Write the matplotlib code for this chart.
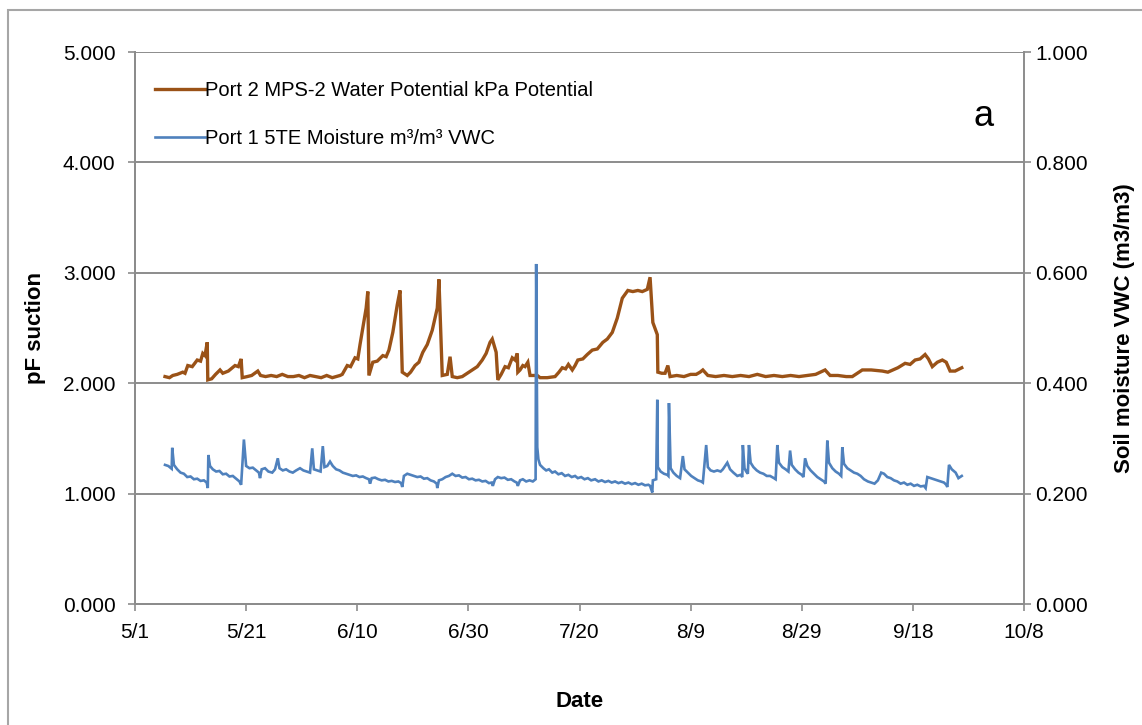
import matplotlib
matplotlib.use("Agg")
import matplotlib.pyplot as plt
from matplotlib.patches import Rectangle

plt.rcParams['font.family'] = ['Liberation Sans', 'DejaVu Sans']

# Days counted from 5/1
tick_days = [0, 20, 40, 60, 80, 100, 120, 140, 160]
tick_labels = ['5/1', '5/21', '6/10', '6/30', '7/20', '8/9', '8/29', '9/18', '10/8']

# Port 2 MPS-2 water potential, as pF suction: (day, pF)
pf_points = [
    (5.4, 2.06), (6.2, 2.05), (6.8, 2.07), (7.6, 2.08), (8.6, 2.10), (9.0, 2.09),
    (9.5, 2.16), (10.3, 2.15), (11.2, 2.21), (11.8, 2.20), (12.2, 2.27), (12.6, 2.25),
    (13.0, 2.37), (13.1, 2.03), (13.8, 2.04), (14.5, 2.08), (15.3, 2.12), (15.8, 2.09),
    (16.8, 2.11), (18.0, 2.16), (18.6, 2.15), (19.1, 2.22), (19.3, 2.05), (20.2, 2.06),
    (21.0, 2.07), (22.1, 2.11), (22.6, 2.07), (23.5, 2.06), (24.5, 2.07), (25.5, 2.06),
    (26.5, 2.08), (27.5, 2.06), (28.5, 2.06), (29.5, 2.07), (30.5, 2.05), (31.5, 2.07),
    (32.5, 2.06), (33.5, 2.05), (34.5, 2.07), (35.5, 2.05), (36.9, 2.07), (37.3, 2.08),
    (38.2, 2.16), (38.8, 2.15), (39.6, 2.23), (40.1, 2.22), (40.5, 2.35), (41.0, 2.50),
    (41.6, 2.68), (41.9, 2.83), (42.1, 2.07), (42.8, 2.19), (43.6, 2.20), (44.6, 2.25),
    (45.2, 2.24), (45.7, 2.30), (46.4, 2.46), (47.2, 2.71), (47.7, 2.84), (48.1, 2.10),
    (49.0, 2.07), (49.6, 2.10), (50.4, 2.16), (51.1, 2.19), (51.8, 2.28), (52.6, 2.35),
    (53.5, 2.48), (54.4, 2.68), (54.7, 2.94), (55.3, 2.07), (56.2, 2.08), (56.7, 2.24),
    (57.1, 2.06), (58.0, 2.05), (58.9, 2.06), (59.8, 2.09), (60.7, 2.12), (61.6, 2.15),
    (62.5, 2.21), (63.2, 2.27), (63.9, 2.37), (64.3, 2.40), (64.6, 2.35), (65.0, 2.28),
    (65.3, 2.03), (65.9, 2.08), (66.6, 2.15), (67.2, 2.14), (67.9, 2.23), (68.4, 2.21),
    (68.8, 2.27), (68.9, 2.10), (69.3, 2.12), (69.8, 2.16), (70.2, 2.15), (70.7, 2.19),
    (71.1, 2.07), (72.4, 2.07), (72.9, 2.05), (74.2, 2.05), (75.6, 2.06), (76.3, 2.10),
    (76.9, 2.14), (77.5, 2.13), (78.0, 2.17), (78.7, 2.12), (79.2, 2.16), (79.7, 2.21),
    (80.6, 2.22), (81.4, 2.26), (82.3, 2.30), (83.2, 2.31), (84.2, 2.37), (85.0, 2.40),
    (85.9, 2.46), (86.8, 2.59), (87.7, 2.77), (88.7, 2.84), (89.6, 2.83), (90.5, 2.84),
    (91.3, 2.83), (92.2, 2.85), (92.7, 2.96), (93.2, 2.55), (94.0, 2.44), (94.1, 2.10),
    (94.8, 2.09), (95.4, 2.09), (95.9, 2.16), (96.3, 2.06), (97.5, 2.07), (98.8, 2.06),
    (100.0, 2.08), (101.0, 2.08), (101.7, 2.10), (102.2, 2.12), (103.1, 2.07),
    (104.5, 2.06), (106.0, 2.07), (107.5, 2.06), (109.0, 2.07), (110.5, 2.06),
    (112.0, 2.08), (113.5, 2.06), (115.0, 2.07), (116.5, 2.06), (118.0, 2.07),
    (119.5, 2.06), (121.0, 2.07), (122.5, 2.08), (124.2, 2.12), (125.1, 2.07),
    (126.5, 2.07), (128.0, 2.06), (129.1, 2.06), (130.0, 2.09), (130.9, 2.12),
    (132.5, 2.12), (134.5, 2.11), (135.5, 2.10), (136.4, 2.12), (137.3, 2.14),
    (138.6, 2.18), (139.5, 2.17), (140.4, 2.21), (141.3, 2.22), (142.2, 2.26),
    (142.8, 2.22), (143.5, 2.15), (144.4, 2.19), (145.3, 2.21), (146.0, 2.19),
    (146.7, 2.11), (147.6, 2.11), (148.8, 2.14),
]

# Port 1 5TE volumetric water content, m3/m3: (day, VWC)
vwc_points = [
    (5.4, 0.252), (6.0, 0.250), (6.6, 0.245), (6.7, 0.283), (7.0, 0.252), (7.6, 0.244),
    (8.2, 0.238), (8.8, 0.236), (9.4, 0.230), (10.0, 0.231), (10.6, 0.226), (11.2, 0.227),
    (11.8, 0.223), (12.4, 0.224), (12.9, 0.220), (13.1, 0.210), (13.2, 0.270), (13.5, 0.250),
    (14.0, 0.244), (14.6, 0.240), (15.2, 0.241), (15.8, 0.235), (16.4, 0.236), (17.0, 0.231),
    (17.6, 0.232), (18.2, 0.227), (18.8, 0.222), (19.1, 0.216), (19.6, 0.298), (20.0, 0.250),
    (20.6, 0.246), (21.2, 0.247), (21.8, 0.242), (22.3, 0.238), (22.5, 0.228), (22.8, 0.244),
    (23.4, 0.246), (24.0, 0.240), (24.7, 0.238), (25.2, 0.244), (25.7, 0.264), (26.0, 0.246),
    (26.6, 0.242), (27.2, 0.244), (27.8, 0.240), (28.4, 0.238), (29.0, 0.242), (29.7, 0.246),
    (30.3, 0.242), (30.9, 0.240), (31.5, 0.238), (31.9, 0.282), (32.2, 0.244), (32.8, 0.242),
    (33.4, 0.240), (33.8, 0.286), (34.1, 0.248), (34.6, 0.250), (35.1, 0.258), (35.6, 0.250),
    (36.2, 0.244), (36.8, 0.242), (37.4, 0.238), (38.0, 0.236), (38.6, 0.234), (39.2, 0.232),
    (39.8, 0.233), (40.4, 0.230), (41.0, 0.231), (41.6, 0.228), (42.1, 0.226), (42.3, 0.218),
    (42.6, 0.228), (43.2, 0.229), (43.8, 0.226), (44.4, 0.224), (45.0, 0.225), (45.6, 0.222),
    (46.2, 0.223), (46.8, 0.221), (47.4, 0.222), (47.9, 0.219), (48.1, 0.212), (48.4, 0.232),
    (49.0, 0.236), (49.6, 0.234), (50.2, 0.232), (50.8, 0.230), (51.4, 0.231), (52.0, 0.227),
    (52.6, 0.228), (53.2, 0.224), (53.8, 0.222), (54.3, 0.218), (54.4, 0.210), (54.7, 0.224),
    (55.3, 0.226), (55.9, 0.230), (56.5, 0.232), (57.1, 0.236), (57.7, 0.232), (58.3, 0.233),
    (58.9, 0.229), (59.5, 0.230), (60.1, 0.226), (60.7, 0.227), (61.3, 0.224), (61.9, 0.225),
    (62.5, 0.222), (63.1, 0.223), (63.7, 0.219), (64.2, 0.220), (64.4, 0.214), (64.8, 0.226),
    (65.3, 0.230), (65.9, 0.228), (66.5, 0.229), (67.1, 0.225), (67.7, 0.226), (68.3, 0.222),
    (68.7, 0.220), (68.9, 0.214), (69.3, 0.224), (69.8, 0.226), (70.4, 0.222), (71.0, 0.224),
    (71.6, 0.222), (72.1, 0.226), (72.2, 0.616), (72.4, 0.284), (72.6, 0.262), (72.9, 0.252),
    (73.5, 0.246), (74.0, 0.242), (74.5, 0.244), (75.1, 0.238), (75.6, 0.240), (76.2, 0.235),
    (76.8, 0.237), (77.4, 0.232), (78.0, 0.234), (78.6, 0.230), (79.2, 0.232), (79.7, 0.228),
    (80.3, 0.230), (80.9, 0.226), (81.5, 0.228), (82.1, 0.224), (82.8, 0.226), (83.4, 0.222),
    (84.0, 0.224), (84.6, 0.221), (85.2, 0.223), (85.8, 0.220), (86.4, 0.222), (87.0, 0.219),
    (87.6, 0.221), (88.2, 0.218), (88.8, 0.220), (89.4, 0.217), (90.0, 0.219), (90.6, 0.216),
    (91.2, 0.218), (91.8, 0.215), (92.4, 0.216), (92.7, 0.214), (93.1, 0.202), (93.2, 0.224),
    (93.8, 0.226), (94.0, 0.370), (94.1, 0.248), (94.6, 0.240), (95.2, 0.236), (95.8, 0.234),
    (96.0, 0.232), (96.1, 0.364), (96.4, 0.246), (96.9, 0.238), (97.5, 0.232), (98.1, 0.228),
    (98.6, 0.268), (98.9, 0.244), (99.5, 0.238), (100.1, 0.232), (100.7, 0.228),
    (101.3, 0.224), (101.9, 0.222), (102.2, 0.220), (102.8, 0.288), (103.1, 0.248),
    (103.6, 0.242), (104.2, 0.240), (104.8, 0.242), (105.4, 0.240), (105.8, 0.244),
    (106.6, 0.256), (107.1, 0.244), (107.7, 0.238), (108.4, 0.232), (109.0, 0.234),
    (109.3, 0.230), (109.4, 0.288), (109.7, 0.246), (110.0, 0.240), (110.3, 0.236),
    (110.5, 0.288), (110.8, 0.256), (111.3, 0.248), (111.9, 0.242), (112.5, 0.238),
    (113.1, 0.236), (113.7, 0.232), (114.3, 0.232), (115.0, 0.228), (115.3, 0.226),
    (115.6, 0.288), (115.9, 0.256), (116.5, 0.248), (117.1, 0.244), (117.6, 0.240),
    (117.9, 0.278), (118.2, 0.252), (118.8, 0.244), (119.4, 0.238), (120.0, 0.234),
    (120.3, 0.230), (120.6, 0.264), (121.0, 0.250), (121.6, 0.242), (122.2, 0.236),
    (122.8, 0.230), (123.4, 0.226), (124.0, 0.222), (124.3, 0.218), (124.6, 0.296),
    (124.9, 0.256), (125.5, 0.246), (126.1, 0.240), (126.7, 0.236), (127.1, 0.232),
    (127.3, 0.284), (127.6, 0.254), (128.2, 0.246), (128.8, 0.242), (129.4, 0.238),
    (130.0, 0.236), (130.6, 0.232), (131.2, 0.226), (131.9, 0.222), (132.5, 0.220),
    (133.1, 0.218), (133.7, 0.224), (134.3, 0.238), (134.8, 0.236), (135.4, 0.230),
    (136.0, 0.228), (136.6, 0.224), (137.2, 0.222), (137.8, 0.218), (138.4, 0.220),
    (139.0, 0.216), (139.6, 0.218), (140.2, 0.214), (140.8, 0.216), (141.4, 0.213),
    (142.0, 0.214), (142.3, 0.210), (142.6, 0.230), (143.2, 0.228), (143.8, 0.226),
    (144.4, 0.224), (145.0, 0.222), (145.6, 0.220), (146.0, 0.216), (146.2, 0.212),
    (146.5, 0.252), (147.0, 0.244), (147.7, 0.238), (148.2, 0.228), (148.8, 0.232),
]

pf_days, pf_values = zip(*pf_points)
vwc_days, vwc_values = zip(*vwc_points)

BROWN = '#9A5217'
BLUE = '#4F81BD'
GRID = '#8C8C8C'

fig = plt.figure(figsize=(11.42, 7.25), dpi=100)
W, H = 1142, 725
ax1 = fig.add_axes([135 / W, 1 - 604 / H, 889 / W, 552 / H])
ax2 = ax1.twinx()

# outer chart frame
fig.patches.append(Rectangle((8 / W, -0.1), 1.2, (715 / H) + 0.1, transform=fig.transFigure,
                             fill=False, edgecolor='#A6A6A6', lw=1.5))

l1, = ax1.plot(pf_days, pf_values, color=BROWN, lw=2.4, solid_joinstyle='miter',
               label='Port 2 MPS-2 Water Potential kPa Potential')
l2, = ax2.plot(vwc_days, vwc_values, color=BLUE, lw=1.9, solid_joinstyle='miter',
               label='Port 1 5TE Moisture m³/m³ VWC')

ax1.set_xlim(0, 160)
ax1.set_ylim(0, 5)
ax2.set_ylim(0, 1)
ax1.set_xticks(tick_days)
ax1.set_xticklabels(tick_labels)
ax1.set_yticks([0, 1, 2, 3, 4, 5])
ax1.set_yticklabels([f'{v:.3f}' for v in [0, 1, 2, 3, 4, 5]])
ax2.set_yticks([0, 0.2, 0.4, 0.6, 0.8, 1.0])
ax2.set_yticklabels([f'{v:.3f}' for v in [0, 0.2, 0.4, 0.6, 0.8, 1.0]])

ax1.yaxis.grid(True, color=GRID, lw=1.4)
ax1.set_axisbelow(True)

for ax in (ax1, ax2):
    for side, sp in ax.spines.items():
        sp.set_color(GRID)
        sp.set_linewidth(1.4)
    ax.spines['top'].set_visible(False)
ax1.spines['right'].set_visible(False)

ax1.tick_params(axis='y', direction='out', length=5, width=1.2, color=GRID,
                labelsize=15, pad=9)
ax1.tick_params(axis='x', direction='out', length=5, width=1.2, color=GRID,
                labelsize=15, pad=9)
ax2.tick_params(axis='y', direction='out', length=5, width=1.2, color=GRID,
                labelsize=15, pad=3)

ax1.set_ylabel('pF suction', fontsize=16, fontweight='bold')
ax1.yaxis.set_label_coords(-0.100, 0.5)
ax2.set_ylabel('Soil moisture VWC (m3/m3)', fontsize=16, fontweight='bold')
ax2.yaxis.set_label_coords(1.101, 0.5)
ax1.set_xlabel('Date', fontsize=16, fontweight='bold')
ax1.xaxis.set_label_coords(0.5, -0.158)

leg = ax2.legend([l1, l2], [l1.get_label(), l2.get_label()], loc='upper left',
                 bbox_to_anchor=(0.0225, 0.947), frameon=False, fontsize=14.5,
                 handlelength=2.5, handletextpad=0.0, labelspacing=1.45,
                 borderaxespad=0, borderpad=0)

ax2.text(0.955, 0.883, 'a', transform=ax2.transAxes, fontsize=26, ha='center', va='center')

fig.savefig('out.png', dpi=100)
